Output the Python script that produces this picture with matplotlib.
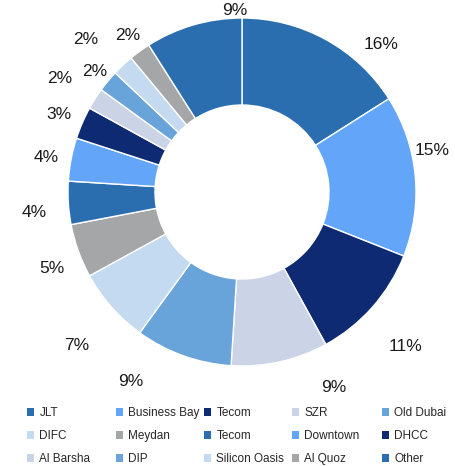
import matplotlib.pyplot as plt
from matplotlib.patches import Patch

labels = ["JLT", "Business Bay", "Tecom", "SZR", "Old Dubai",
          "DIFC", "Meydan", "Tecom", "Downtown", "DHCC",
          "Al Barsha", "DIP", "Silicon Oasis", "Al Quoz", "Other"]
shares = [16, 15, 11, 9, 9, 7, 5, 4, 4, 3, 2, 2, 2, 2, 9]
colors = ["#2A6EAF", "#63A6F9", "#0D2A73", "#CBD3E6", "#68A3DA",
          "#C4DAF0", "#A5A6A8", "#2A6EAF", "#63A6F9", "#0D2A73",
          "#CBD3E6", "#68A3DA", "#C4DAF0", "#A5A6A8", "#2A6EAF"]

# where the percentage labels sit (pie radius = 1), as placed in the original
label_pos = [(0.80, 0.845), (1.09, 0.24), (0.94, -0.89), (0.53, -1.125),
             (-0.64, -1.09), (-0.95, -0.885), (-1.09, -0.44), (-1.195, -0.12),
             (-1.125, 0.20), (-1.055, 0.445), (-1.045, 0.655), (-0.845, 0.69),
             (-0.90, 0.875), (-0.655, 0.90), (-0.04, 1.045)]

plt.rcParams['font.family'] = ['Liberation Sans', 'DejaVu Sans']

fig = plt.figure(figsize=(4.56, 4.66), dpi=100)
ax = fig.add_axes([68 / 456, 100 / 466, 348 / 456, 348 / 466])

wedges, texts = ax.pie(shares, colors=colors, startangle=90, counterclock=False,
                       labels=[f"{s}%" for s in shares],
                       wedgeprops=dict(width=0.5, edgecolor='white', linewidth=1),
                       textprops=dict(fontsize=12.5, color='#1a1a1a'))
for t, p in zip(texts, label_pos):
    t.set_position(p)
    t.set_horizontalalignment('center')
    t.set_verticalalignment('center')
ax.set_xlim(-1, 1)
ax.set_ylim(-1, 1)
ax.set_aspect('equal')

# legend: five equal-width columns, filled row by row
ncol = 5
col_x = [27, 116, 204, 292, 382]
for c in range(ncol):
    idx = [r * ncol + c for r in range(3)]
    leg = fig.legend([Patch(facecolor=colors[i], edgecolor='none') for i in idx],
                     [labels[i] for i in idx],
                     loc='upper left', bbox_to_anchor=(col_x[c] / 456, 1 - 407 / 466),
                     frameon=False, fontsize=8.5, handlelength=0.6, handleheight=0.6,
                     handletextpad=0.45, labelspacing=0.93,
                     borderpad=0, borderaxespad=0)
    for t in leg.get_texts():
        t.set_color('#262626')

fig.savefig("out.png", dpi=100)
